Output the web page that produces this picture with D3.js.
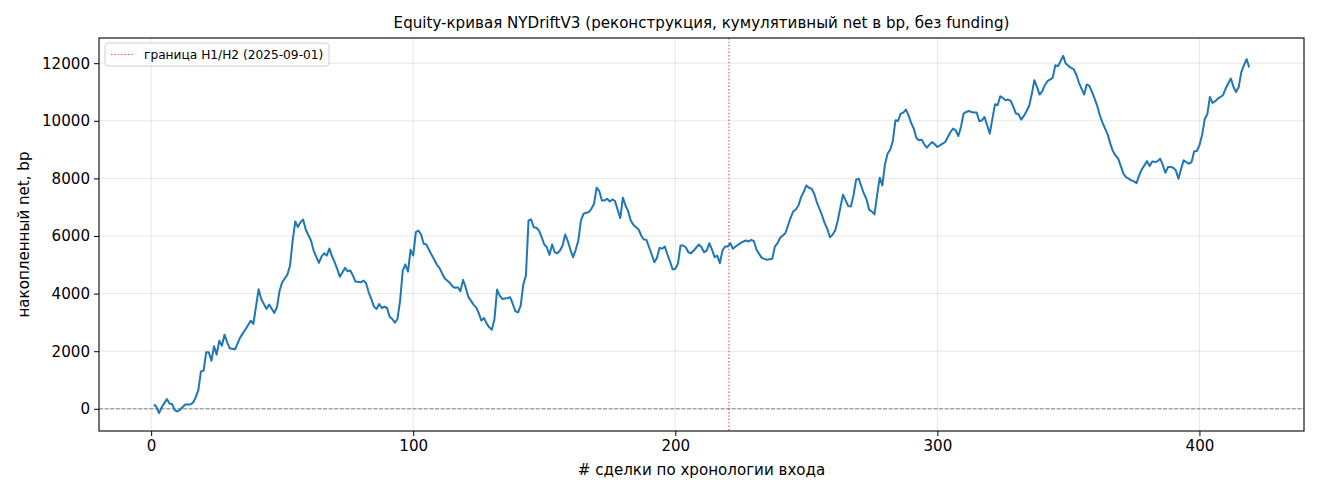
<!DOCTYPE html>
<html>
<head>
<meta charset="utf-8">
<title>Equity-кривая NYDriftV3</title>
<script src="https://cdn.jsdelivr.net/npm/d3@7"></script>
<style>
  body { margin: 0; background: #fff; }
  text { font-family: "DejaVu Sans", sans-serif; fill: #000; }
</style>
</head>
<body>
<script>
// data
var trades = [1,2,3,4,6,7,8,9,10,11,13,15,16,17,18,19,20,21,22,23,24,25,26,27,28,29,30,32,34,36,38,39,41,42,44,45,47,48,49,50,52,53,54,55,56,57,58,59,61,62,64,65,66,67,68,69,70,71,72,73,74,75,76,77,78,80,81,82,83,84,85,86,87,88,89,90,91,92,93,94,95,96,97,98,99,100,101,102,103,104,105,106,107,108,109,110,111,112,114,115,116,117,118,119,120,121,123,124,125,126,127,128,129,130,131,132,133,134,136,137,138,139,140,141,142,143,144,145,146,147,148,149,150,151,152,153,154,155,156,157,158,159,160,161,162,163,164,165,166,167,168,169,170,171,172,173,174,175,176,177,178,179,180,181,182,183,184,185,186,187,188,189,190,191,192,193,194,195,196,197,198,199,200,201,202,203,204,205,206,207,209,210,211,212,213,214,215,216,217,218,219,220,221,222,223,225,226,227,228,229,230,231,232,233,234,235,237,238,239,240,241,242,243,244,245,246,247,248,249,250,251,252,253,254,255,256,257,258,259,260,261,262,263,264,265,266,267,268,269,270,271,272,273,274,275,276,277,278,279,280,281,282,283,284,285,286,287,288,289,290,291,292,293,294,295,296,297,298,299,300,301,302,303,304,305,306,307,308,309,310,311,312,313,314,315,316,317,318,319,320,321,322,323,324,325,326,327,328,329,330,331,332,333,334,335,336,337,338,339,340,341,342,344,345,346,347,348,349,350,351,352,353,354,355,356,357,358,359,360,361,362,363,364,365,366,367,368,369,370,371,372,373,374,375,376,377,378,379,380,381,382,383,384,385,386,387,388,389,390,391,392,393,394,395,396,397,398,399,400,401,402,403,404,405,406,407,409,410,412,413,414,415,416,417,418,419];

var equity = [150,70,-150,45,337,185,160,-45,-93,-35,150,150,220,393,650,1300,1320,1960,1960,1670,2170,1880,2365,2190,2575,2310,2100,2065,2480,2760,3060,2945,4150,3815,3470,3620,3330,3525,4100,4395,4660,4975,5845,6505,6310,6480,6575,6215,5845,5495,5065,5287,5400,5320,5565,5300,5090,4860,4590,4740,4893,4775,4800,4625,4417,4393,4450,4370,4045,3815,3548,3467,3640,3500,3548,3500,3200,3120,2990,3120,3757,4800,5010,4765,5520,5320,6132,6190,6050,5728,5705,5520,5345,5183,5010,4893,4707,4532,4372,4254,4198,4220,4080,4477,4220,3895,3617,3523,3328,3060,3155,2967,2828,2748,3120,4140,3930,3815,3850,3870,3640,3385,3350,3583,4313,4625,6540,6574,6306,6285,6190,5958,5705,5610,5345,5705,5437,5400,5495,5670,6050,5820,5520,5263,5520,5845,6540,6772,6806,6828,6946,7120,7677,7560,7235,7235,7294,7200,7270,7210,6910,6620,7330,7060,6863,6540,6390,6306,6226,6017,5878,5868,5610,5357,5090,5240,5590,5555,5635,5357,5113,4835,4860,5033,5670,5670,5610,5437,5400,5495,5705,5610,5437,5495,5750,5530,5263,5320,5053,5495,5635,5635,5750,5555,5635,5763,5808,5843,5808,5868,5820,5520,5380,5240,5207,5172,5207,5635,5750,5937,6017,6097,6365,6633,6852,6922,7060,7350,7525,7757,7677,7642,7468,7177,6946,6713,6446,6250,5958,6040,6190,6540,7000,7433,7235,7037,7025,7410,7955,7990,7720,7468,7260,6910,6852,6748,7410,8025,7757,8487,8858,8998,9298,10017,9993,10250,10285,10390,10190,9923,9730,9402,9322,9346,9183,9067,9172,9263,9183,9090,9148,9207,9263,9437,9610,9730,9670,9472,9785,10250,10307,10341,10307,10285,10285,9983,10017,10133,9843,9553,10075,10574,10540,10852,10795,10713,10737,10690,10480,10250,10226,10040,10168,10330,10515,10910,11410,11176,10910,11025,11235,11374,11490,11930,11896,12070,12254,11986,11907,11837,11790,11607,11328,11120,10910,11260,11210,11002,10770,10515,10191,9937,9730,9520,9207,8940,8800,8685,8427,8163,8045,7990,7930,7895,7837,8104,8313,8452,8603,8427,8590,8567,8590,8685,8475,8197,8393,8393,8370,8278,7990,8337,8626,8567,8510,8567,8940,8950,9148,9496,10052,10226,10828,10620,10678,10770,10887,11120,11467,11176,11002,11176,11697,11930,12140,11850];

var xTicks = [0, 100, 200, 300, 400];
var yTicks = [0, 2000, 4000, 6000, 8000, 10000, 12000];
var boundary = [220.5];
var legendLabels = ["граница H1/H2 (2025-09-01)"];

var W = 1320, H = 495;
var margin = {top: 38, right: 16, bottom: 64, left: 99};
var width = W - margin.left - margin.right;
var height = H - margin.top - margin.bottom;
var fontSize = "15.1px";

// matplotlib-like 5% padding around the data
var xMin = d3.min(trades), xMax = d3.max(trades);
var yMin = d3.min(equity), yMax = d3.max(equity);
var xPad = (xMax - xMin) * 0.05, yPad = (yMax - yMin) * 0.05;

var x = d3.scaleLinear().domain([xMin - xPad, xMax + xPad]).range([0, width]);
var y = d3.scaleLinear().domain([yMin - yPad, yMax + yPad]).range([height, 0]);

var svg = d3.select("body").append("svg")
    .attr("width", W)
    .attr("height", H);

var g = svg.append("g")
    .attr("transform", "translate(" + margin.left + "," + margin.top + ")");

// grid
g.append("g").selectAll("line").data(xTicks).enter().append("line")
    .attr("x1", function(d) { return x(d); })
    .attr("x2", function(d) { return x(d); })
    .attr("y1", 0).attr("y2", height)
    .attr("stroke", "#b0b0b0").attr("stroke-opacity", 0.3).attr("stroke-width", 1);
g.append("g").selectAll("line").data(yTicks).enter().append("line")
    .attr("y1", function(d) { return y(d); })
    .attr("y2", function(d) { return y(d); })
    .attr("x1", 0).attr("x2", width)
    .attr("stroke", "#b0b0b0").attr("stroke-opacity", 0.3).attr("stroke-width", 1);

// zero line
g.append("line")
    .attr("x1", 0).attr("x2", width)
    .attr("y1", y(0)).attr("y2", y(0))
    .attr("stroke", "#808080").attr("stroke-width", 1)
    .attr("stroke-dasharray", "4,1.6");

// H1/H2 boundary
g.append("g").selectAll("line").data(boundary).enter().append("line")
    .attr("x1", function(d) { return x(d); })
    .attr("x2", function(d) { return x(d); })
    .attr("y1", 0).attr("y2", height)
    .attr("stroke", "#e31a1c").attr("stroke-opacity", 0.75).attr("stroke-width", 1.2)
    .attr("stroke-dasharray", "1.4,2");

// equity curve
var line = d3.line()
    .x(function(d, i) { return x(trades[i]); })
    .y(function(d) { return y(d); });

g.append("path")
    .datum(equity)
    .attr("fill", "none")
    .attr("stroke", "#1f77b4")
    .attr("stroke-width", 2)
    .attr("stroke-linejoin", "round")
    .attr("d", line);

// axes
var xAxis = g.append("g")
    .attr("transform", "translate(0," + height + ")")
    .call(d3.axisBottom(x).tickValues(xTicks).tickFormat(d3.format("d")).tickSize(5).tickPadding(4));
var yAxis = g.append("g")
    .call(d3.axisLeft(y).tickValues(yTicks).tickFormat(d3.format("d")).tickSize(5).tickPadding(4));

[xAxis, yAxis].forEach(function(a) {
    a.select(".domain").remove();
    a.selectAll("line").attr("stroke", "#000").attr("stroke-width", 1);
    a.selectAll("text").attr("font-size", fontSize).attr("font-family", "DejaVu Sans").attr("fill", "#000");
});

// frame
g.append("rect")
    .attr("width", width).attr("height", height)
    .attr("fill", "none").attr("stroke", "#000").attr("stroke-width", 1.1);

// labels
svg.append("text")
    .attr("x", margin.left + width / 2).attr("y", 28)
    .attr("text-anchor", "middle").attr("font-size", fontSize)
    .text("Equity-кривая NYDriftV3 (реконструкция, кумулятивный net в bp, без funding)");

svg.append("text")
    .attr("x", margin.left + width / 2).attr("y", 475)
    .attr("text-anchor", "middle").attr("font-size", fontSize)
    .text("# сделки по хронологии входа");

svg.append("text")
    .attr("transform", "translate(29," + (margin.top + height / 2) + ") rotate(-90)")
    .attr("text-anchor", "middle").attr("font-size", fontSize)
    .text("накопленный net, bp");

// legend
var leg = g.append("g").attr("transform", "translate(6,5)");
leg.append("rect")
    .attr("width", 224).attr("height", 23).attr("rx", 3)
    .attr("fill", "#fff").attr("fill-opacity", 0.8)
    .attr("stroke", "#d0d0d0").attr("stroke-width", 1);
leg.selectAll("line.key").data(legendLabels).enter().append("line")
    .attr("class", "key")
    .attr("x1", 6).attr("x2", 28).attr("y1", 11.5).attr("y2", 11.5)
    .attr("stroke", "#e31a1c").attr("stroke-opacity", 0.75).attr("stroke-width", 1.2)
    .attr("stroke-dasharray", "1.4,2");
leg.selectAll("text").data(legendLabels).enter().append("text")
    .attr("x", 39).attr("y", 16)
    .attr("font-size", "12.2px")
    .text(function(d) { return d; });
</script>
</body>
</html>
